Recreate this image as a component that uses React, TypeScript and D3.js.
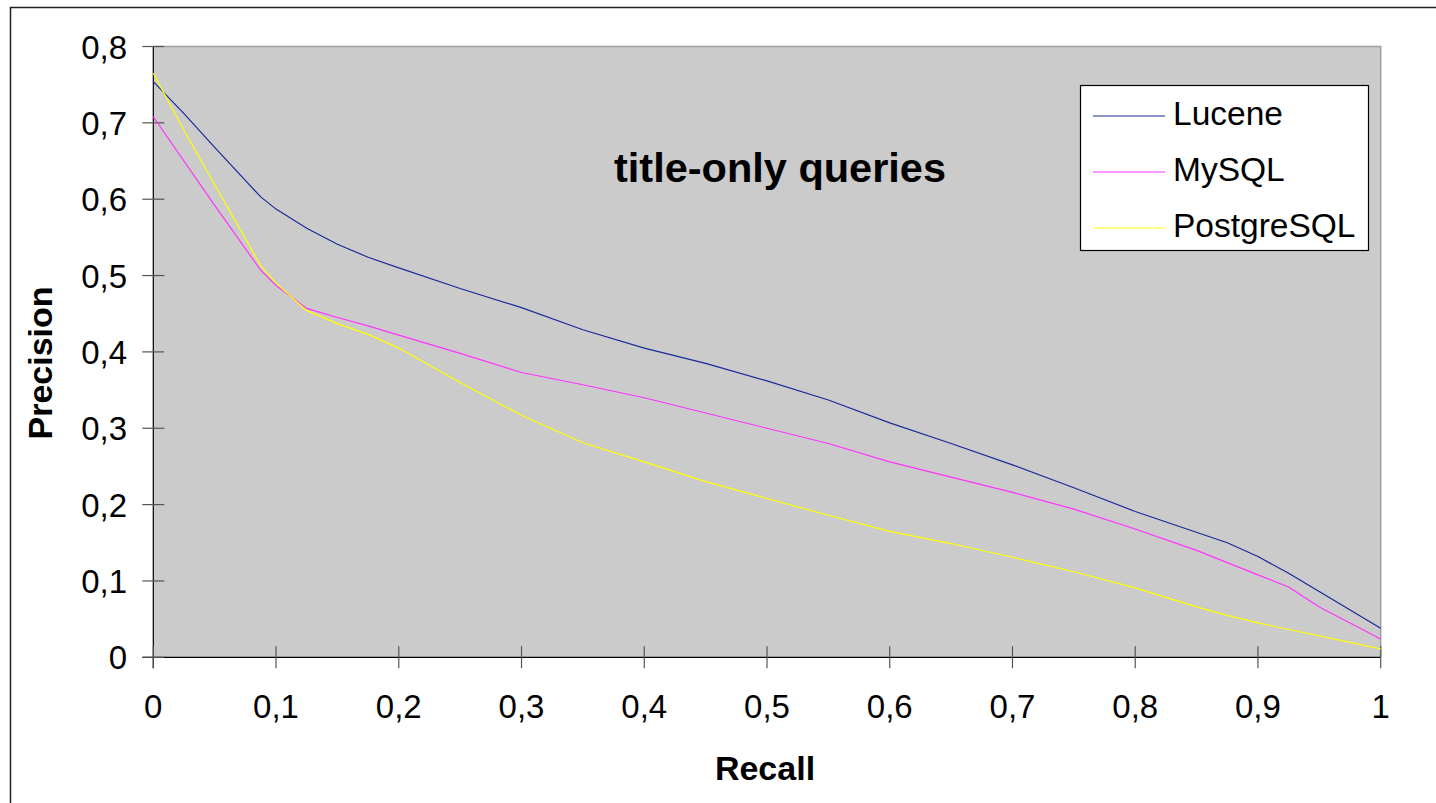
import React, { useEffect, useRef } from 'react';
import * as d3 from 'd3';

// recall levels + precision per engine
const lucRecall = [0, 0.025, 0.05, 0.0875, 0.1, 0.125, 0.15, 0.175, 0.2, 0.25, 0.3, 0.35, 0.4, 0.45, 0.5, 0.55, 0.6, 0.65, 0.7, 0.75, 0.8, 0.875, 0.9, 0.925, 1];
const lucPrecision = [0.754, 0.712, 0.668, 0.603, 0.587, 0.562, 0.541, 0.524, 0.51, 0.483, 0.458, 0.429, 0.405, 0.385, 0.362, 0.337, 0.307, 0.28, 0.252, 0.222, 0.191, 0.15, 0.132, 0.11, 0.038];

const myRecall = [0, 0.05, 0.0875, 0.1, 0.125, 0.15, 0.175, 0.2, 0.25, 0.3, 0.35, 0.4, 0.45, 0.5, 0.55, 0.6, 0.65, 0.7, 0.75, 0.8, 0.85, 0.9, 0.925, 0.95, 1];
const myPrecision = [0.708, 0.592, 0.507, 0.487, 0.457, 0.445, 0.434, 0.422, 0.398, 0.373, 0.357, 0.34, 0.32, 0.3, 0.28, 0.256, 0.236, 0.216, 0.194, 0.168, 0.14, 0.108, 0.092, 0.066, 0.024];

const pgRecall = [0, 0.025, 0.0875, 0.1, 0.125, 0.15, 0.175, 0.2, 0.25, 0.3, 0.35, 0.4, 0.45, 0.5, 0.55, 0.6, 0.65, 0.7, 0.75, 0.8, 0.85, 0.875, 0.9, 1];
const pgPrecision = [0.765, 0.69, 0.513, 0.49, 0.454, 0.437, 0.423, 0.405, 0.36, 0.317, 0.281, 0.256, 0.23, 0.208, 0.186, 0.165, 0.149, 0.131, 0.112, 0.091, 0.066, 0.055, 0.045, 0.011];

const seriesNames = ['Lucene', 'MySQL', 'PostgreSQL'];
const seriesColors = ['#1a2a9a', '#ff33ff', '#ffff00'];

const xTicks = [0, 0.1, 0.2, 0.3, 0.4, 0.5, 0.6, 0.7, 0.8, 0.9, 1];
const yTicks = [0, 0.1, 0.2, 0.3, 0.4, 0.5, 0.6, 0.7, 0.8];

const fmt = (v: number) => (v === 0 || v === 1 ? String(v) : v.toFixed(1).replace('.', ','));

const App: React.FC = () => {
  const ref = useRef<SVGSVGElement>(null);

  useEffect(() => {
    if (!ref.current) return;
    const svg = d3.select(ref.current);
    svg.selectAll('*').remove();

    const font = '"Liberation Sans", Arial, sans-serif';
    const x = d3.scaleLinear().domain([0, 1]).range([153.3, 1380.7]);
    const y = d3.scaleLinear().domain([0, 0.8]).range([657.3, 46.5]);

    // outer chart frame (runs off the picture right/bottom)
    svg.append('rect')
      .attr('x', 10.5).attr('y', 7.5)
      .attr('width', 1440).attr('height', 800)
      .attr('fill', '#fff')
      .attr('stroke', '#222').attr('stroke-width', 1.5);

    // plot area
    svg.append('rect')
      .attr('x', x(0)).attr('y', y(0.8))
      .attr('width', x(1) - x(0)).attr('height', y(0) - y(0.8))
      .attr('fill', '#cbcbcb');
    svg.append('path')
      .attr('d', `M${x(0)},${y(0.8)}H${x(1)}V${y(0)}`)
      .attr('fill', 'none').attr('stroke', '#a0a0a0').attr('stroke-width', 1.5);

    // axes
    svg.append('line')
      .attr('x1', x(0)).attr('x2', x(0)).attr('y1', y(0.8)).attr('y2', y(0) + 11)
      .attr('stroke', '#000').attr('stroke-width', 1.2);
    svg.append('line')
      .attr('x1', x(0) - 11).attr('x2', x(1)).attr('y1', y(0)).attr('y2', y(0))
      .attr('stroke', '#000').attr('stroke-width', 1.2);

    svg.selectAll('.ytick')
      .data(yTicks)
      .join('line')
      .attr('x1', x(0) - 11).attr('x2', x(0) + 11)
      .attr('y1', d => y(d)).attr('y2', d => y(d))
      .attr('stroke', '#555').attr('stroke-width', 1.2);
    svg.selectAll('.ylab')
      .data(yTicks)
      .join('text')
      .attr('x', 127).attr('y', d => y(d) + 12)
      .attr('text-anchor', 'end')
      .attr('font-family', font).attr('font-size', '33px')
      .text(d => fmt(d));

    svg.selectAll('.xtick')
      .data(xTicks)
      .join('line')
      .attr('x1', d => x(d)).attr('x2', d => x(d))
      .attr('y1', y(0) - 11).attr('y2', y(0) + 11)
      .attr('stroke', '#555').attr('stroke-width', 1.2);
    svg.selectAll('.xlab')
      .data(xTicks)
      .join('text')
      .attr('x', d => x(d)).attr('y', 718)
      .attr('text-anchor', 'middle')
      .attr('font-family', font).attr('font-size', '33px')
      .text(d => fmt(d));

    // series lines
    const line = d3.line<[number, number]>().x(d => x(d[0])).y(d => y(d[1]));
    const series: [number, number][][] = [
      lucRecall.map((r, i) => [r, lucPrecision[i]]),
      myRecall.map((r, i) => [r, myPrecision[i]]),
      pgRecall.map((r, i) => [r, pgPrecision[i]]),
    ];
    series.forEach((pts, i) => {
      svg.append('path')
        .attr('d', line(pts) || '')
        .attr('fill', 'none')
        .attr('stroke', seriesColors[i])
        .attr('stroke-width', 1.2);
    });

    // in-plot title
    svg.append('text')
      .attr('x', 780).attr('y', 182)
      .attr('text-anchor', 'middle')
      .attr('font-family', font).attr('font-weight', 'bold').attr('font-size', '41.5px')
      .text('title-only queries');

    // axis titles
    svg.append('text')
      .attr('x', 765).attr('y', 780)
      .attr('text-anchor', 'middle')
      .attr('font-family', font).attr('font-weight', 'bold').attr('font-size', '34px')
      .text('Recall');
    svg.append('text')
      .attr('transform', 'translate(51.5,363) rotate(-90)')
      .attr('text-anchor', 'middle')
      .attr('font-family', font).attr('font-weight', 'bold').attr('font-size', '34px')
      .text('Precision');

    // legend
    const lg = svg.append('g');
    lg.append('rect')
      .attr('x', 1080.5).attr('y', 85.5).attr('width', 288).attr('height', 165)
      .attr('fill', '#fff').attr('stroke', '#000').attr('stroke-width', 1.2);
    seriesNames.forEach((name, i) => {
      const ly = 116 + i * 56;
      lg.append('line')
        .attr('x1', 1093).attr('x2', 1165).attr('y1', ly).attr('y2', ly)
        .attr('stroke', seriesColors[i]).attr('stroke-width', 1.2);
      lg.append('text')
        .attr('x', 1173).attr('y', ly + 8.5)
        .attr('font-family', font).attr('font-size', '33.5px')
        .text(name);
    });
  }, []);

  return (
    <svg
      ref={ref}
      width={1436}
      height={803}
      style={{ position: 'absolute', left: 0, top: 0, display: 'block', background: '#fff' }}
    />
  );
};

export default App;
